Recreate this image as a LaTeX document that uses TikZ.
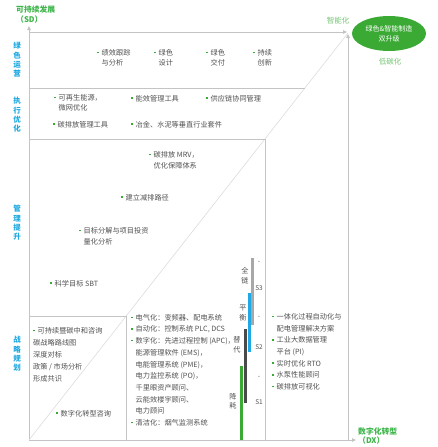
\documentclass[tikz,border=0pt]{standalone}
\usepackage{fontspec}
\setmainfont{Noto Sans CJK SC}
\usetikzlibrary{arrows.meta,shapes.geometric}

\definecolor{linegrey}{HTML}{C4C4C4}
\definecolor{diaggrey}{HTML}{DCDCDC}
\definecolor{txtgrey}{HTML}{505050}
\definecolor{sideblue}{HTML}{1EA9E1}
\definecolor{titlegreen}{HTML}{3DB54A}
\definecolor{softgreen}{HTML}{74C574}
\definecolor{goalgreen}{HTML}{3AAA35}
\definecolor{dotgreen}{HTML}{3AAA35}
\definecolor{barblue}{HTML}{1EA8E6}
\definecolor{bargrey}{HTML}{A8A8A8}
\definecolor{bardark}{HTML}{4A4A4A}

\newcommand{\bul}{\textcolor{dotgreen}{\rule[0.3em]{1.5pt}{1.5pt}}\hspace{3pt}}
\newcommand{\ind}{\hspace*{4.5pt}}

\begin{document}
\begin{tikzpicture}[x=1pt,y=-1pt,
  frame/.style={draw=linegrey, line width=0.9pt},
  axis/.style={draw=linegrey, line width=1pt, -{Triangle[length=4pt,width=3.6pt]}},
  item/.style={anchor=base west, inner sep=0pt, align=left, text=txtgrey, font=\fontsize{7.2}{10}\selectfont},
  side/.style={align=center, inner sep=0pt, text=sideblue, font=\bfseries\fontsize{7.5}{9.3}\selectfont},
  barlabel/.style={align=center, inner sep=0pt, text=txtgrey, font=\fontsize{7.2}{9.5}\selectfont},
  stage/.style={inner sep=0pt, text=txtgrey, font=\fontsize{6.5}{7}\selectfont},
  bar/.style={line width=3pt}]
\useasboundingbox (0,0) rectangle (437,447);

% axes and frames
\coordinate (orig) at (29,440);
\coordinate (corner) at (348,33);
\draw [axis] (orig) -- (29,26);
\draw [axis] (orig) -- (356,440);
\draw [axis] (29,32) -- (347,32);
\draw [axis] (348,440) -- (348,34);
\draw [draw=diaggrey, line width=0.6pt] (orig) -- (corner);
\draw [frame] (29,88) -- (304.9,88);
\draw [frame] (29,139) -- (265,139) -- (265,440);
\draw [frame] (29,316) -- (126.2,316) -- (126.2,440);

% axis titles
\node (sd) at (16,10) [anchor=west, inner sep=0pt, text=titlegreen, font=\bfseries\fontsize{7.8}{9}\selectfont] {可持续发展};
\node (sdabbr) at (16,20) [anchor=west, inner sep=0pt, text=titlegreen, font=\bfseries\fontsize{7.8}{9}\selectfont] {（SD）};
\node (dx) at (358,432) [anchor=west, inner sep=0pt, text=titlegreen, font=\bfseries\fontsize{7.8}{9}\selectfont] {数字化转型};
\node (dxabbr) at (358,441) [anchor=west, inner sep=0pt, text=titlegreen, font=\bfseries\fontsize{7.8}{9}\selectfont] {（DX）};

% goal
\node (goal) at (389,33.5) [ellipse, fill=goalgreen, minimum width=74pt, minimum height=35pt, inner sep=0pt, align=center, text=white, font=\fontsize{7}{10}\selectfont] {绿色\&智能制造\\双升级};
\node (smart) at (338,21) [inner sep=0pt, text=softgreen, font=\fontsize{7.5}{9}\selectfont] {智能化};
\node (lowc) at (390,62) [inner sep=0pt, text=softgreen, font=\fontsize{7.5}{9}\selectfont] {低碳化};

% side labels
\node (ops) at (17,60) [side] {绿\\色\\运\\营};
\node (exec) at (17,115) [side] {执\\行\\优\\化};
\node (mgmt) at (17,223) [side] {管\\理\\提\\升};
\node (plan) at (17,354) [side] {战\\略\\规\\划};

% green operation (base = last line)
\node (perf) at (97,65.5) [item] {\bul 绩效跟踪\\\ind 与分析};
\node (gdesign) at (154,65.5) [item] {\bul 绿色\\\ind 设计};
\node (gdeliver) at (206,65.5) [item] {\bul 绿色\\\ind 交付};
\node (innov) at (253,65.5) [item] {\bul 持续\\\ind 创新};

% execution
\node (renew) at (54,110.5) [item] {\bul 可再生能源，\\\ind 微网优化};
\node (effic) at (131,101) [item] {\bul 能效管理工具};
\node (supply) at (206,101) [item] {\bul 供应链协同管理};
\node (ctool) at (53,127) [item] {\bul 碳排放管理工具};
\node (metal) at (131,127) [item] {\bul 冶金、水泥等垂直行业套件};

% management
\node (mrv) at (149,168.5) [item, font=\fontsize{7.2}{11}\selectfont] {\bul 碳排放 MRV，\\\ind 优化保障体系};
\node (path) at (121,200) [item] {\bul 建立减排路径};
\node (target) at (79,244.5) [item, font=\fontsize{7.2}{11}\selectfont] {\bul 目标分解与项目投资\\\ind 量化分析};
\node (sbt) at (50,286) [item] {\bul 科学目标 SBT};

% strategy
\node (consult) at (33,381.5) [item, font=\fontsize{7.2}{12}\selectfont] {\bul 可持续暨碳中和咨询\\碳战略路线图\\深度对标\\政策 / 市场分析\\形成共识};
\node (dxc) at (56,416) [item] {\bul 数字化转型咨询};

% products
\node (prod) at (131,425.5) [item, font=\fontsize{7.2}{11.7}\selectfont] {\bul 电气化：变频器、配电系统\\\bul 自动化：控制系统 PLC, DCS\\\bul 数字化：先进过程控制 (APC)，\\\ind 能源管理软件 (EMS)，\\\ind 电能管理系统 (PME)，\\\ind 电力监控系统 (PO)，\\\ind 千里眼资产顾问、\\\ind 云能效楼宇顾问、\\\ind 电力顾问\\\bul 清洁化：烟气监测系统};

% solutions
\node (solu) at (272,389.5) [item, font=\fontsize{7.2}{11.7}\selectfont] {\bul 一体化过程自动化与\\\ind 配电管理解决方案\\\bul 工业大数据管理\\\ind 平台 (PI)\\\bul 实时优化 RTO\\\bul 水泵性能顾问\\\bul 碳排放可视化};

% stage bars
\draw [bar, bargrey] (252.7,258) -- (252.7,325);
\draw [bar, barblue] (249,293) -- (249,352);
\draw [bar, bardark] (245,329) -- (245,403);
\draw [bar, goalgreen] (241,366) -- (241,440);
\node (chain) at (245,275.5) [barlabel] {全\\链};
\node (bal) at (243,313) [barlabel] {平\\衡};
\node (subst) at (237,345) [barlabel] {替\\代};
\node (red) at (233,401.5) [barlabel] {降\\耗};
\node (t3) at (259,262) [stage] {-};
\node (s3) at (259,288) [stage] {S3};
\node (t2) at (259,317) [stage] {-};
\node (s2) at (259,347) [stage] {S2};
\node (t1) at (259,377) [stage] {-};
\node (s1) at (259,402) [stage] {S1};
\end{tikzpicture}
\end{document}
